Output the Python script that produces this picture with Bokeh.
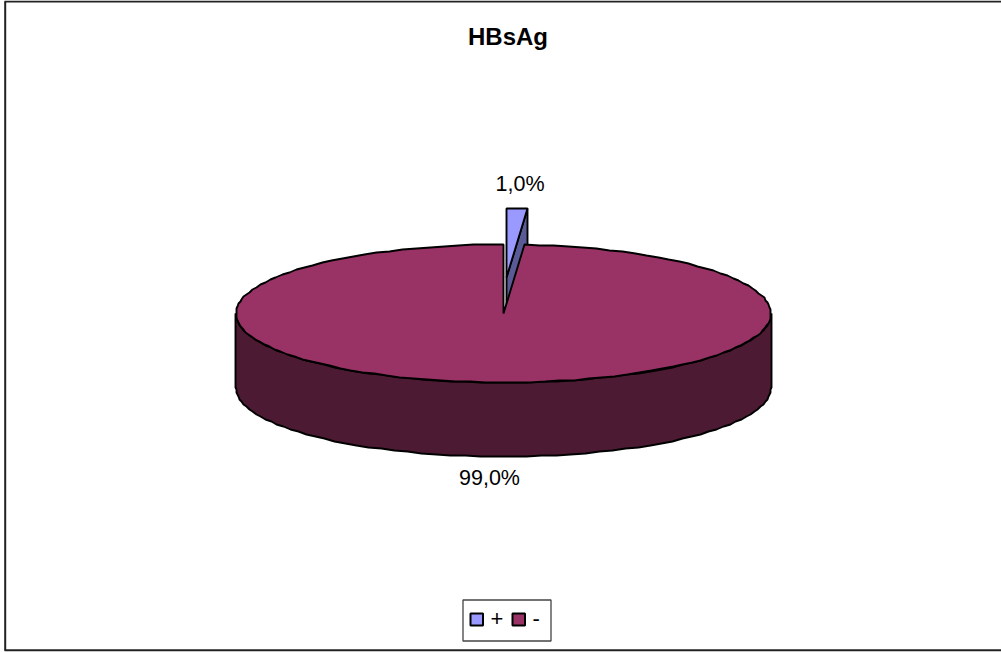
import numpy as np
from bokeh.plotting import figure
from bokeh.core.properties import value
from bokeh.embed import file_html
from bokeh.resources import INLINE

# HBsAg results, in percent
categories = ["+", "-"]
shares = [1.0, 99.0]
share_labels = ["1,0%", "99,0%"]
title_text = "HBsAg"

TOP_COLORS = ["#9999FF", "#993366"]
SIDE_COLORS = ["#5A5A96", "#4D1A33"]
FONT = "Liberation Sans"
EDGE = 1.9

CX, CY = 503.0, 313.0
RX, RY = 267.5, 69.0
DEPTH = 74.0
EXPLODE = (3.0, -36.0)

p = figure(width=1001, height=652, x_range=(0, 1001), y_range=(652, 0),
           output_backend="svg", toolbar_location=None, min_border=0,
           outline_line_color=None, background_fill_color="white")
p.axis.visible = False
p.grid.visible = False


def rim(start, stop, n=60):
    """Points on the tilted disc's rim; angles run clockwise from 12 o'clock."""
    t = np.radians(np.linspace(start, stop, n))
    # tilting the disc widens the angles seen near the back and front
    t = t + 0.125 * np.sin(2 * t)
    # the outline steps along whole pixels
    return np.round(RX * np.sin(t)), np.round(-RY * np.cos(t))


sweeps = [360.0 * s / sum(shares) for s in shares]

# Exploded wedge sits behind the large slice
rx, ry = rim(0, sweeps[0], 8)
ox, oy = CX + EXPLODE[0], CY + EXPLODE[1]
p.patch([ox, ox + rx[-1], ox + rx[-1], ox], [oy, oy + ry[-1], oy + ry[-1] + DEPTH, oy + DEPTH],
        fill_color=SIDE_COLORS[0], line_color="black", line_width=EDGE)
p.patch(np.r_[ox, ox + rx], np.r_[oy, oy + ry],
        fill_color=TOP_COLORS[0], line_color="black", line_width=EDGE)

# Large slice: visible rim wall, then the top face
fx, fy = rim(90, 270, 70)
p.patch(np.r_[CX + fx, CX + fx[::-1]], np.r_[CY + fy, CY + fy[::-1] + DEPTH],
        fill_color=SIDE_COLORS[1], line_color="black", line_width=EDGE)
tx, ty = rim(sweeps[0], 360, 140)
p.patch(np.r_[CX, CX + tx], np.r_[CY, CY + ty],
        fill_color=TOP_COLORS[1], line_color="black", line_width=EDGE)

# Chart frame: top, left and bottom edges
p.multi_line([[4, 1001], [4.7, 4.7], [4, 1001]], [[1, 1], [1, 650], [649.7, 649.7]],
             line_color="#222222", line_width=2)

# Title and slice labels
p.text([507.5], [35.5], text=[title_text], text_font=value(FONT), text_font_size="24px",
       text_font_style="bold", text_align="center", text_baseline="middle", text_color="black")
p.text([519.5, 489], [183, 477], text=share_labels, text_font=value(FONT), text_font_size="21.5px",
       text_align="center", text_baseline="middle", text_color="black")

# Legend
p.quad(left=[462.5], right=[550.5], top=[599.5], bottom=[640.5], fill_color="white",
       line_color="#444444", line_width=1.3)
p.quad(left=[470, 512], right=[482.5, 524.5], top=[613, 613], bottom=[625, 625],
       fill_color=TOP_COLORS, line_color="black", line_width=2)
p.text([490, 532], [618, 618], text=categories, text_font=value(FONT), text_font_size="22px",
       text_align="left", text_baseline="middle", text_color="black")

open("out.html", "w").write(file_html(p, INLINE))
